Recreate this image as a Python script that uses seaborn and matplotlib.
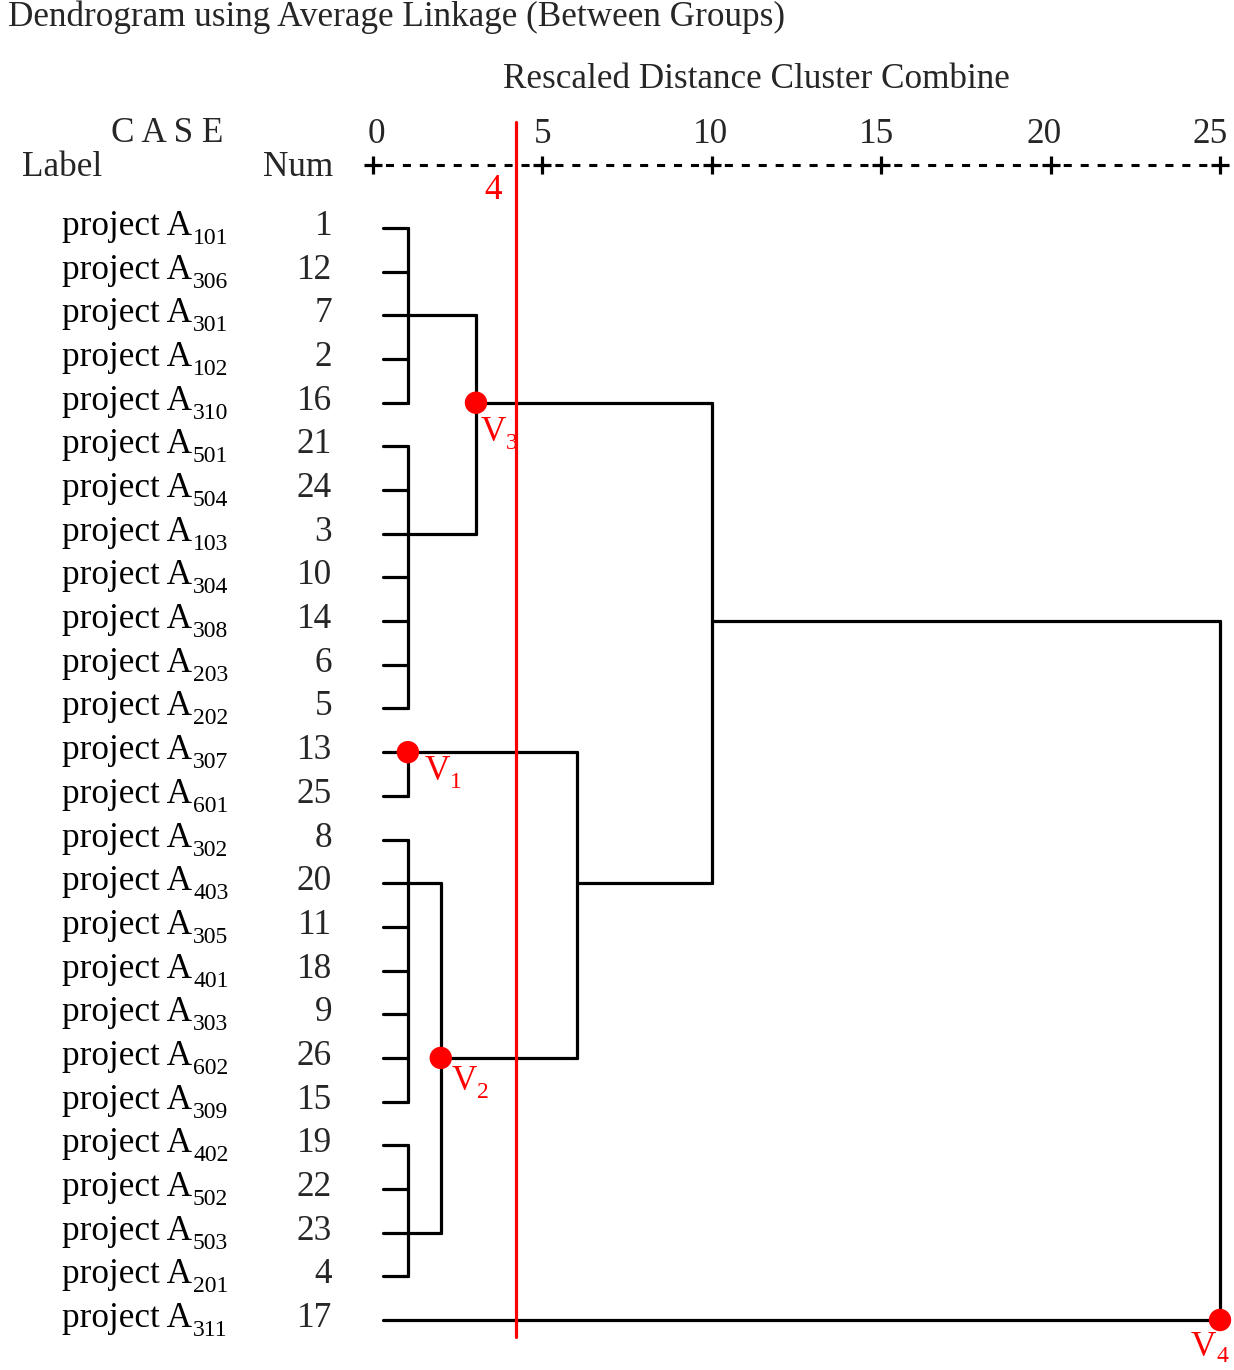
import numpy as np
import pandas as pd
import seaborn as sns
import matplotlib.pyplot as plt

# leaf order as printed by SPSS
labels = ['101', '306', '301', '102', '310', '501', '504', '103', '304', '308', '203', '202', '307',
          '601', '302', '403', '305', '401', '303', '602', '309', '402', '502', '503', '201', '311']
nums = [1, 12, 7, 2, 16, 21, 24, 3, 10, 14, 6, 5, 13, 25, 8, 20, 11, 18, 9, 26, 15, 19, 22, 23, 4, 17]

# merges: (rows joined, rescaled distance, row the new cluster leaves from)
merge_rows = [[0, 1, 2, 3, 4], [5, 6, 7, 8, 9, 10, 11], [12, 13], [14, 15, 16, 17, 18, 19, 20],
              [21, 22, 23, 24], [2, 7], [15, 23], [12, 19], [4, 15], [9, 25]]
merge_dist = [1.03, 1.03, 1.03, 1.03, 1.03, 3.04, 2.0, 6.02, 10.0, 25.0]
merge_out = [2, 7, 12, 15, 23, 4, 19, 15, 9, 25]

# marked clusters
node_names = ['1', '2', '3', '4']
node_dist = [1.03, 2.0, 3.04, 25.0]
node_row = [12, 19, 4, 25]

cut_value = 4.22
cut_label = '4'
ticks = [0, 5, 10, 15, 20, 25]

sns.set_theme(style='white')
plt.rcParams['font.family'] = ['Liberation Serif', 'DejaVu Serif']
plt.rcParams['lines.scale_dashes'] = False

# pixel geometry of the original: x0 at 373 px, 33.88 px / unit; row 0 at 228 px, 43.68 px / row
XPX, X0 = 33.88, 373
YPX, Y0 = 43.68, 228
W, H = 1234, 1370
FS = 25.3

fig = plt.figure(figsize=(W / 100, H / 100), dpi=100)
ax = fig.add_axes([0, 0, 1, 1])
ax.set_xlim(-X0 / XPX, (W - X0) / XPX)
ax.set_ylim((H - Y0) / YPX, -Y0 / YPX)
ax.axis('off')
renderer = fig.canvas.get_renderer()


def px(x=None, y=None):
    if x is not None:
        return (x - X0) / XPX
    return (y - Y0) / YPX


def sub_text(x, y, main, sub, color='black', size=FS, sub_size=17, drop=9, gap=1):
    # main text + lowered subscript written right after it
    t = ax.text(x, y, main, color=color, fontsize=size, ha='left', va='baseline')
    bb = t.get_window_extent(renderer)
    xs = ax.transData.inverted().transform((bb.x1 + gap, 0))[0]
    ax.text(xs, y + drop / YPX, sub, color=color, fontsize=sub_size, ha='left', va='baseline')


# build the dendrogram segments
start = np.full(len(labels), 0.3)
seg = []
k = 0
for kids, d, out in zip(merge_rows, merge_dist, merge_out):
    for r in kids:
        seg += [(start[r], r, k), (d, r, k)]
        k += 1
    seg += [(d, min(kids), k), (d, max(kids), k)]
    k += 1
    start[out] = d
df = pd.DataFrame(seg, columns=['x', 'y', 'seg'])

sns.lineplot(data=df, x='x', y='y', units='seg', estimator=None, sort=False,
             color='black', lw=2.3, ax=ax, legend=False)

# cut line
ax.plot([cut_value, cut_value], [px(y=122), px(y=1337)], color='#ff0000', lw=2.3, zorder=4)
ax.text(px(x=493), px(y=199), cut_label, color='#ff0000', fontsize=FS, ha='center', va='baseline')

# marked nodes
nodes = pd.DataFrame({'x': node_dist, 'y': node_row})
sns.scatterplot(data=nodes, x='x', y='y', color='#ff0000', s=260, edgecolor='none',
                ax=ax, zorder=5, legend=False)
offs = [(17, 28), (11, 32), (5, 38), (-29, 36)]
drops = [8, 8, 8, 6]
for name, d, r, (dx, dy), dr in zip(node_names, node_dist, node_row, offs, drops):
    sub_text(d + dx / XPX, r + dy / YPX, 'V', name, color='#ff0000', sub_size=17, drop=dr, gap=0)

# leaf labels
for i, (lab, n) in enumerate(zip(labels, nums)):
    sub_text(px(x=62), i + 7 / YPX, 'project A', lab)
    ax.text(px(x=332), i + 7 / YPX, str(n), fontsize=FS, ha='right', va='baseline')

# header scale
yh = px(y=165)
ax.plot([0.25, 24.75], [yh, yh], color='black', lw=2.2, ls=(9.0, (5.8, 6.4)))
sns.scatterplot(x=ticks, y=[yh] * len(ticks), marker='+', s=170, color='black',
                linewidth=2.3, ax=ax, legend=False)
tick_shift = [3, 0, -1, -5, -7, -10]
for t, sh in zip(ticks, tick_shift):
    ax.text(t + sh / XPX, px(y=143), str(t), fontsize=FS, ha='center', va='baseline')

ax.text(px(x=756), px(y=88), 'Rescaled Distance Cluster Combine', fontsize=FS, ha='center', va='baseline')
ax.text(px(x=8), px(y=26), 'Dendrogram using Average Linkage (Between Groups)', fontsize=FS,
        ha='left', va='baseline')
ax.text(px(x=167), px(y=142), 'C A S E', fontsize=FS, ha='center', va='baseline')
ax.text(px(x=22), px(y=176), 'Label', fontsize=FS, ha='left', va='baseline')
ax.text(px(x=333), px(y=176), 'Num', fontsize=FS, ha='right', va='baseline')

fig.savefig('out.png', dpi=100)
